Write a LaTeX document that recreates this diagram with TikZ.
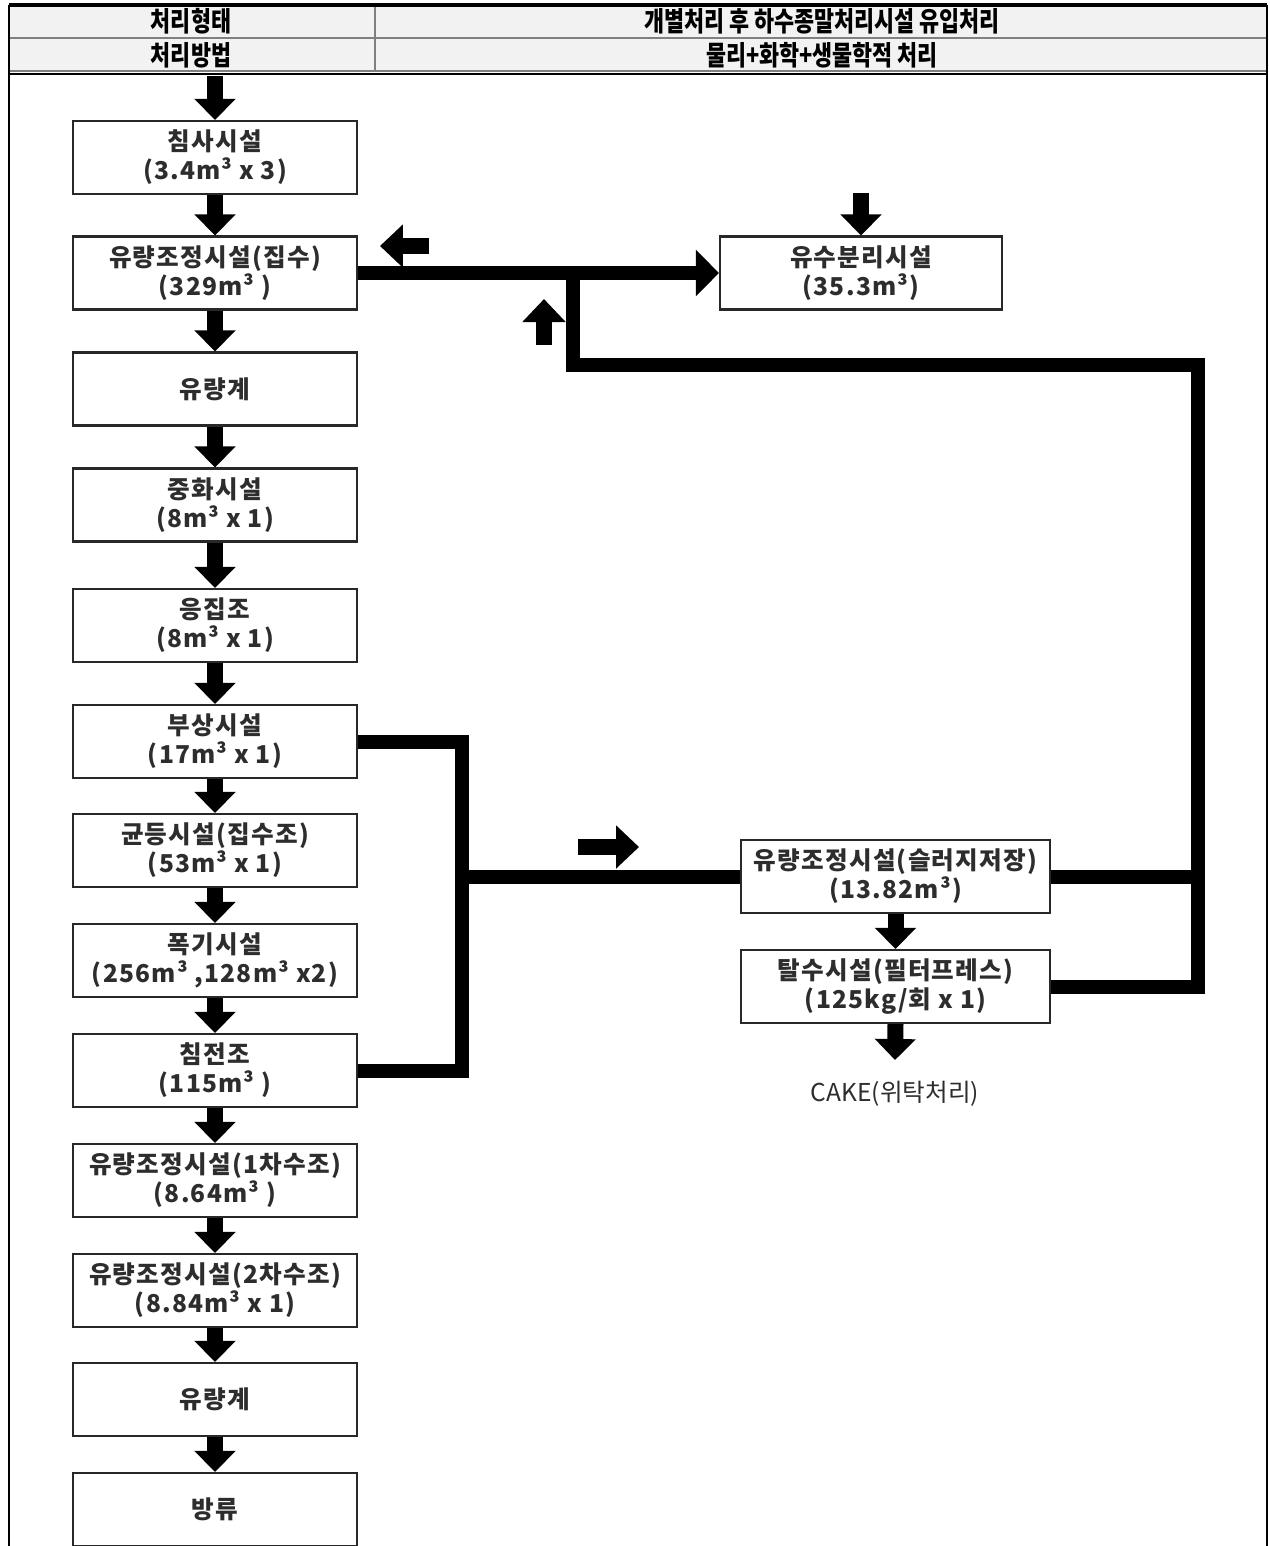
\documentclass[tikz,border=0pt]{standalone}
\usepackage{fontspec}
\setmainfont{Noto Sans CJK KR}
\newfontfamily\stagefont[LetterSpace=5]{Noto Sans CJK KR}
\usetikzlibrary{arrows.meta}
\definecolor{headgray}{RGB}{242,242,242}
\definecolor{boxline}{RGB}{40,40,40}
\definecolor{inkgray}{RGB}{45,45,45}
\newcommand{\hdtext}[1]{\scalebox{0.8}[1]{#1}}

\tikzset{
  stage/.style={draw=boxline, line width=1.2pt, minimum width=5.68cm, minimum height=1.46cm,
    inner sep=0pt, align=center, text=inkgray, font=\stagefont\bfseries\fontsize{14}{16.4}\selectfont},
  widestage/.style={stage, minimum width=6.18cm},
  hdlabel/.style={inner sep=0pt, font=\bfseries\fontsize{15.5}{17}\selectfont},
  flowline/.style={line width=0.28cm, line join=miter},
  bigarrow/.style={line width=0.32cm, -{Triangle[width=0.8cm,length=0.42cm]}},
  hintarrow/.style={line width=0.32cm, -{Triangle[width=0.84cm,length=0.46cm]}}
}

\begin{document}
\begin{tikzpicture}[x=0.02cm, y=-0.02cm]
  \useasboundingbox (0,0) rectangle (1270,1546);
  % header table
  \fill[headgray] (9,5) rectangle (1267,72);
  \draw[gray, line width=1.4pt] (9,38) -- (1267,38);
  \draw[gray, line width=1pt] (9,71) -- (1267,71);
  \draw[line width=1.2pt] (9,74) -- (1267,74);
  \draw[gray, line width=0.8pt] (375,5) -- (375,72);
  \draw[line width=1.8pt] (9,5) -- (1267,5);
  \draw[line width=1.4pt] (9,5) -- (9,1546);
  \draw[line width=1.4pt] (1267,5) -- (1267,1546);
  \node[hdlabel] (hdtype) at (191,21) {\hdtext{처리형태}};
  \node[hdlabel] (hdtypev) at (822,21) {\hdtext{개별처리 후 하수종말처리시설 유입처리}};
  \node[hdlabel] (hdmeth) at (191,55) {\hdtext{처리방법}};
  \node[hdlabel] (hdmethv) at (822,55) {\hdtext{물리+화학+생물학적 처리}};

  % main treatment train
  \node[stage] (grit) at (215,157.5) {침사시설\\(3.4m³ x 3)};
  \node[stage] (eqin) at (215,273) {유량조정시설(집수)\\(329m³ )};
  \node[stage] (meter1) at (215,389) {유량계};
  \node[stage] (neut) at (215,505) {중화시설\\(8m³ x 1)};
  \node[stage] (coag) at (215,625.5) {응집조\\(8m³ x 1)};
  \node[stage] (flot) at (215,741.5) {부상시설\\(17m³ x 1)};
  \node[stage] (homog) at (215,850.5) {균등시설(집수조)\\(53m³ x 1)};
  \node[stage] (aer) at (215,960.5) {폭기시설\\(256m³ ,128m³ x2)};
  \node[stage] (sed) at (215,1070.5) {침전조\\(115m³ )};
  \node[stage] (eqa) at (215,1180.5) {유량조정시설(1차수조)\\(8.64m³ )};
  \node[stage] (eqb) at (215,1290.5) {유량조정시설(2차수조)\\(8.84m³ x 1)};
  \node[stage] (meter2) at (215,1399.5) {유량계};
  \node[stage] (outfall) at (215,1509.5) {방류};

  % side units
  \node[stage, minimum width=5.64cm] (oilsep) at (861,273) {유수분리시설\\(35.3m³)};
  \node[widestage] (sludge) at (895.5,876.5) {유량조정시설(슬러지저장)\\(13.82m³)};
  \node[widestage] (dewat) at (895.5,986.5) {탈수시설(필터프레스)\\(125kg/회 x 1)};
  \node[inner sep=0pt, text=inkgray, font=\fontsize{14}{16}\selectfont] (cake) at (895,1094) {CAKE(위탁처리)};

  \coordinate (inflow) at (215,76);
  \coordinate (oilin) at (861,193);
  \coordinate (cakein) at (895,1060);
  \coordinate (junc) at (573,273);
  \coordinate (retcorner) at (1198,365);
  \coordinate (collect) at (462,741.5);

  % arrows between stages
  \draw[bigarrow] (inflow) -- (grit.north);
  \foreach \a/\b in {grit/eqin, eqin/meter1, meter1/neut, neut/coag, coag/flot, flot/homog,
                     homog/aer, aer/sed, sed/eqa, eqa/eqb, eqb/meter2, meter2/outfall}
    \draw[bigarrow] (\a.south) -- (\b.north);
  \draw[bigarrow] (oilin) -- (oilsep.north);
  \draw[bigarrow] (sludge.south) -- (dewat.north);
  \draw[bigarrow] (dewat.south) -- (cakein);

  % sludge and return lines
  \draw[flowline, -{Triangle[width=0.9cm,length=0.46cm]}] (eqin.east) -- (oilsep.west);
  \draw[flowline] (dewat.east) -| (retcorner) -| (junc);
  \draw[flowline] (sludge.east) -- (sludge.east -| retcorner);
  \draw[flowline] (flot.east) -- (collect) |- (sed.east);
  \draw[flowline] (collect |- sludge.west) -- (sludge.west);

  % direction hints
  \draw[hintarrow] (429,246) -- (380,246);
  \draw[hintarrow] (544,345) -- (544,299);
  \draw[hintarrow] (578,847) -- (639,847);
\end{tikzpicture}
\end{document}
